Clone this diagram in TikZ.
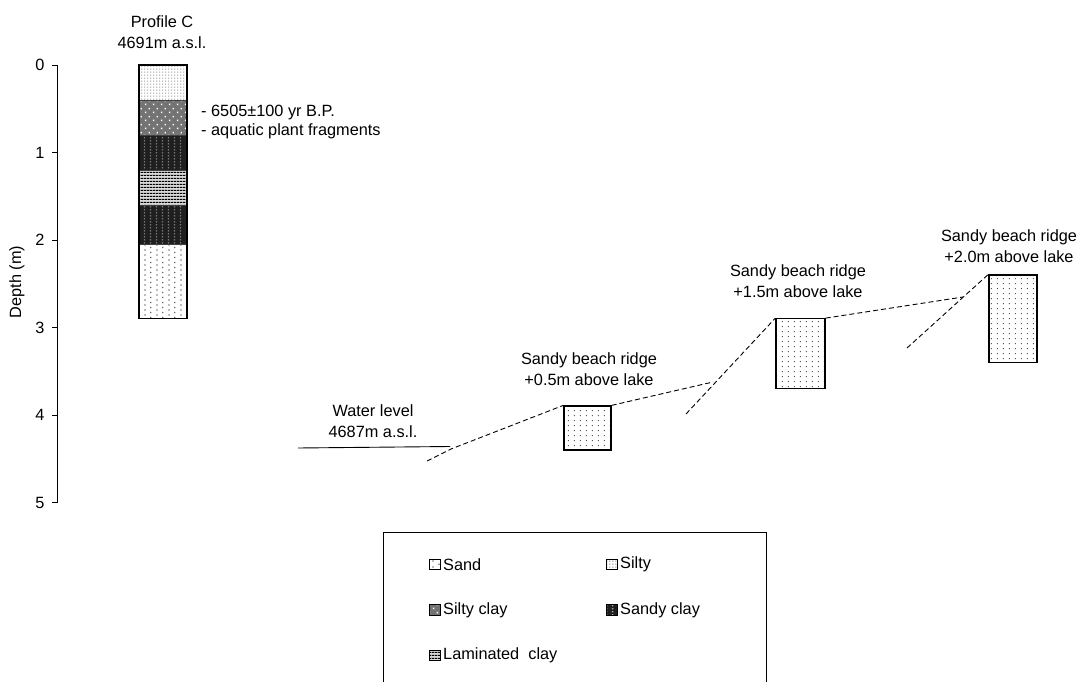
\documentclass[tikz,border=0pt]{standalone}
\usepackage{fontspec}
\setmainfont{Liberation Sans}
\usetikzlibrary{patterns}

% sparse staggered dots (sand)
\pgfdeclarepatternformonly{sanddots}{\pgfqpoint{0pt}{0pt}}{\pgfqpoint{12pt}{5.4pt}}{\pgfqpoint{12pt}{5.4pt}}{%
 \pgfpathrectangle{\pgfqpoint{0.5pt}{0.5pt}}{\pgfqpoint{1.3pt}{1.3pt}}%
 \pgfpathrectangle{\pgfqpoint{6.5pt}{3.2pt}}{\pgfqpoint{1.3pt}{1.3pt}}%
 \pgfusepath{fill}}
% fine dense dots (silty)
\pgfdeclarepatternformonly{finedots}{\pgfqpoint{0pt}{0pt}}{\pgfqpoint{3pt}{2.6pt}}{\pgfqpoint{3pt}{2.6pt}}{%
 \pgfpathrectangle{\pgfqpoint{0.4pt}{0.4pt}}{\pgfqpoint{1.2pt}{1.1pt}}%
 \pgfusepath{fill}}
% white dots on grey (silty clay)
\pgfdeclarepatternformonly{whitedots}{\pgfqpoint{0pt}{0pt}}{\pgfqpoint{8pt}{8pt}}{\pgfqpoint{8pt}{8pt}}{%
 \pgfpathrectangle{\pgfqpoint{1pt}{1pt}}{\pgfqpoint{1.6pt}{1.6pt}}%
 \pgfpathrectangle{\pgfqpoint{5pt}{5pt}}{\pgfqpoint{1.6pt}{1.6pt}}%
 \pgfusepath{fill}}
% dotted columns (sandy clay)
\pgfdeclarepatternformonly{coldots}{\pgfqpoint{0pt}{0pt}}{\pgfqpoint{5.5pt}{3pt}}{\pgfqpoint{5.5pt}{3pt}}{%
 \pgfpathrectangle{\pgfqpoint{1pt}{0.8pt}}{\pgfqpoint{1.4pt}{1.4pt}}%
 \pgfusepath{fill}}
% horizontal laminae
\pgfdeclarepatternformonly{laminae}{\pgfqpoint{0pt}{0pt}}{\pgfqpoint{3pt}{3.4pt}}{\pgfqpoint{3pt}{3.4pt}}{%
 \pgfpathrectangle{\pgfqpoint{0pt}{0pt}}{\pgfqpoint{3pt}{1.3pt}}%
 \pgfusepath{fill}}
% beach ridge dots
\pgfdeclarepatternformonly{ridgedots}{\pgfqpoint{0pt}{0pt}}{\pgfqpoint{5.5pt}{4.6pt}}{\pgfqpoint{5.5pt}{4.6pt}}{%
 \pgfpathrectangle{\pgfqpoint{1pt}{1pt}}{\pgfqpoint{1.1pt}{1.1pt}}%
 \pgfusepath{fill}}

\tikzset{
  txt/.style={font=\fontsize{16.3}{20.5}\selectfont, inner sep=0pt, align=center},
  ltxt/.style={font=\fontsize{16.3}{20.5}\selectfont, inner sep=0pt, anchor=west},
  sand/.style={pattern=sanddots, pattern color=black!60},
  silty/.style={pattern=finedots, pattern color=black!55},
  siltyclay/.style={preaction={fill=black!55}, pattern=whitedots, pattern color=white},
  sandyclay/.style={preaction={fill=black!88}, pattern=coldots, pattern color=black!35},
  laminated/.style={preaction={fill=black!15}, pattern=laminae, pattern color=black},
  layer/.style={draw=black!75, line width=0.6pt},
  ridgebox/.style={draw=black, line width=1.3pt, inner sep=0pt, pattern=ridgedots, pattern color=black!65},
  dashline/.style={draw=black, line width=0.9pt, dash pattern=on 5pt off 3pt},
  icon/.style={draw=black, line width=0.7pt, inner sep=0pt, minimum width=11pt, minimum height=10.5pt},
}

\begin{document}
\begin{tikzpicture}[x=1pt,y=-1pt]
\useasboundingbox (0,0) rectangle (1079,682);
\fill[white] (0,0) rectangle (1079,682);

% depth axis
\draw[line width=0.8pt] (57,65) -- (57,502.5);
\foreach \d in {0,...,5}{
  \pgfmathsetmacro\yy{65+87.5*\d}
  \draw[line width=0.8pt] (52,\yy) -- (57,\yy);
  \node[txt] (tick\d) at (40,\yy) {\d};
}
\node[txt, rotate=90] (depthlabel) at (17,282) {Depth (m)};

% profile C column
\path[layer, silty]     (139,65)    rectangle (187,100);
\path[layer, siltyclay] (139,100)   rectangle (187,135);
\path[layer, sandyclay] (139,135)   rectangle (187,170);
\path[layer, laminated] (139,170)   rectangle (187,205);
\path[layer, sandyclay] (139,205)   rectangle (187,244.4);
\path[layer, sand]      (139,244.4) rectangle (187,318.75);
\draw[line width=1.3pt] (139,65) rectangle (187,318.75);

\node[txt] (profile) at (162,32) {Profile C\\4691m a.s.l.};
\node[ltxt] (age) at (201,113) {- 6505±100 yr B.P.};
\node[ltxt] (plants) at (201,131) {- aquatic plant fragments};

% water level
\coordinate (wl1) at (298,448);
\coordinate (wl2) at (450,446.5);
\draw[line width=0.9pt] (wl1) -- (wl2);
\node[txt] (water) at (373,421) {Water level\\4687m a.s.l.};

% beach ridges
\node[ridgebox, minimum width=47pt, minimum height=44pt] (b1) at (587.5,428) {};
\node[ridgebox, minimum width=49pt, minimum height=70pt] (b2) at (800.5,353.75) {};
\node[ridgebox, minimum width=48pt, minimum height=87.5pt] (b3) at (1013,318.75) {};

\node[txt] (lb1) at (589,369) {Sandy beach ridge\\+0.5m above lake};
\node[txt] (lb2) at (798,281) {Sandy beach ridge\\+1.5m above lake};
\node[txt] (lb3) at (1009,246) {Sandy beach ridge\\+2.0m above lake};

% dashed slope lines
\coordinate (s1a) at (427,461);
\coordinate (s1b) at (451,449);
\coordinate (s2e) at (713,382);
\coordinate (s3a) at (686,414);
\coordinate (s4e) at (963,297);
\coordinate (s5a) at (907,348);
\draw[dashline] (s1a) -- (s1b) -- (b1.north west);
\draw[dashline] (b1.north east) -- (s2e);
\draw[dashline] (s3a) -- (b2.north west);
\draw[dashline] (b2.north east) -- (s4e);
\draw[dashline] (s5a) -- (b3.north west);

% legend
\draw[line width=0.9pt] (383,684) -- (383,532) -- (766,532) -- (766,684);
\node[icon, sand]      (i1) at (435,564.5) {};
\node[ltxt] (l1) at (443,564.5) {Sand};
\node[icon, silty]     (i2) at (612,564.5) {};
\node[ltxt] (l2) at (620,564.5) {Silty};
\node[icon, siltyclay] (i3) at (435,610) {};
\node[ltxt] (l3) at (443,610) {Silty clay};
\node[icon, sandyclay] (i4) at (612,610) {};
\node[ltxt] (l4) at (620,610) {Sandy clay};
\node[icon, laminated] (i5) at (435,655.5) {};
\node[ltxt] (l5) at (443,655.5) {Laminated\ \ clay};
\end{tikzpicture}
\end{document}
